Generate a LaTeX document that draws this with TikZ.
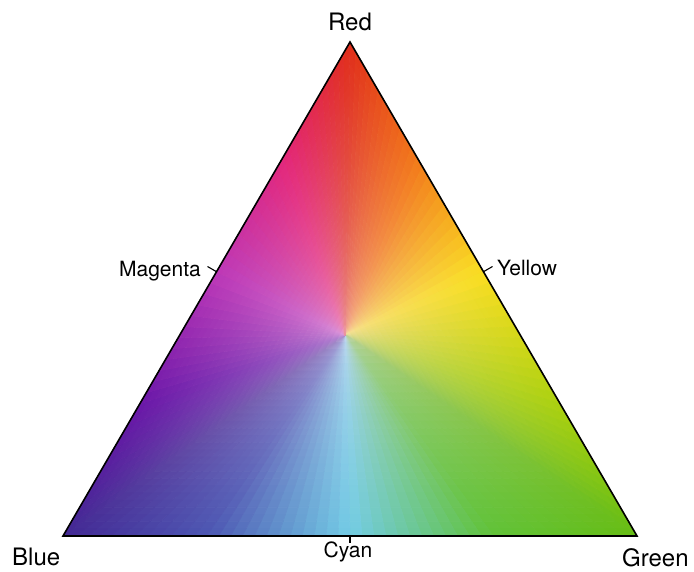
\documentclass[tikz,border=0pt]{standalone}
\usepackage{fontspec}
\setmainfont{TeX Gyre Heros}
\begin{document}
\begin{tikzpicture}[x=1pt,y=-1pt,
  biglabel/.style={font=\fontsize{24}{28}\selectfont, inner sep=0pt},
  smalllabel/.style={font=\fontsize{21}{25}\selectfont, inner sep=0pt},
  tickline/.style={line width=1.1pt, black},
  outline/.style={line width=1.6pt, black, line join=miter}]
\useasboundingbox (0,0) rectangle (694,571);
\fill[white] (0,0) rectangle (694,571);
% centre of the colour wheel
\def\cenx{345}\def\ceny{335}
\def\NR{28}\def\NT{12}
\foreach \ax/\ay/\ar/\ag/\ab/\bx/\by/\br/\bg/\bb in {
 350/42/0.88/0.18/0.10/416.75/156.85/0.95/0.47/0.10,
 416.75/156.85/0.95/0.47/0.10/483.5/271.7/0.98/0.87/0.13,
 483.5/271.7/0.98/0.87/0.13/560.25/403.85/0.68/0.82/0.06,
 560.25/403.85/0.68/0.82/0.06/637/536/0.40/0.74/0.08,
 637/536/0.40/0.74/0.08/493.5/536/0.38/0.76/0.22,
 493.5/536/0.38/0.76/0.22/350/536/0.45/0.80/0.90,
 350/536/0.45/0.80/0.90/206.5/536/0.30/0.34/0.70,
 206.5/536/0.30/0.34/0.70/63/536/0.26/0.16/0.58,
 63/536/0.26/0.16/0.58/139.75/403.85/0.42/0.09/0.66,
 139.75/403.85/0.42/0.09/0.66/216.5/271.7/0.74/0.22/0.72,
 216.5/271.7/0.74/0.22/0.72/283.25/156.85/0.89/0.15/0.48,
 283.25/156.85/0.89/0.15/0.48/350/42/0.88/0.18/0.10}{
  \foreach \j in {1,...,\NT}{
    \pgfmathsetmacro\tA{(\j-1)/\NT}
    \pgfmathsetmacro\tB{\j/\NT}
    \pgfmathsetmacro\tM{(\j-0.5)/\NT}
    \pgfmathsetmacro\eAx{\ax+\tA*(\bx-\ax)-\cenx}
    \pgfmathsetmacro\eAy{\ay+\tA*(\by-\ay)-\ceny}
    \pgfmathsetmacro\eBx{\ax+\tB*(\bx-\ax)-\cenx}
    \pgfmathsetmacro\eBy{\ay+\tB*(\by-\ay)-\ceny}
    \pgfmathsetmacro\edR{\ar+\tM*(\br-\ar)}
    \pgfmathsetmacro\edG{\ag+\tM*(\bg-\ag)}
    \pgfmathsetmacro\edB{\ab+\tM*(\bb-\ab)}
    \pgfmathsetmacro\inR{0.45+0.35*\edR+0.172}
    \pgfmathsetmacro\inG{0.45+0.35*\edG+0.124}
    \pgfmathsetmacro\inB{0.45+0.35*\edB+0.176}
    \foreach \i in {1,...,\NR}{
      \pgfmathsetmacro\sA{(\i-1)/\NR}
      \pgfmathsetmacro\sB{\i/\NR}
      \pgfmathsetmacro\fs{((\i-0.5)/\NR)^0.55}
      \pgfmathsetmacro\colR{\inR+\fs*(\edR-\inR)}
      \pgfmathsetmacro\colG{\inG+\fs*(\edG-\inG)}
      \pgfmathsetmacro\colB{\inB+\fs*(\edB-\inB)}
      \definecolor{cellcol}{rgb}{\colR,\colG,\colB}
      \fill[cellcol, draw=cellcol, line width=0.6pt, line join=round]
        ({\cenx+\sA*(\eAx)},{\ceny+\sA*(\eAy)}) --
        ({\cenx+\sB*(\eAx)},{\ceny+\sB*(\eAy)}) --
        ({\cenx+\sB*(\eBx)},{\ceny+\sB*(\eBy)}) --
        ({\cenx+\sA*(\eBx)},{\ceny+\sA*(\eBy)}) -- cycle;
    }
  }
}
% vertices and tick points
\coordinate (R) at (350,42);
\coordinate (G) at (637,536);
\coordinate (B) at (63,536);
\coordinate (Ym) at (483.5,271.7);
\coordinate (Mm) at (216.5,271.7);
\coordinate (Cm) at (350,536);
\coordinate (Yt) at (492.5,266.5);
\coordinate (Mt) at (207.5,266.5);
\coordinate (Ct) at (350,543);
\draw[outline] (R) -- (G) -- (B) -- cycle;
\draw[tickline] (Ym) -- (Yt);
\draw[tickline] (Mm) -- (Mt);
\draw[tickline] (Cm) -- (Ct);
% labels
\node[biglabel, anchor=base] (red) at (350,30) {Red};
\node[biglabel, anchor=base west] (blue) at (12,565) {Blue};
\node[biglabel, anchor=base west] (green) at (622,566) {Green};
\node[smalllabel, anchor=base] (cyan) at (348,557) {Cyan};
\node[smalllabel, anchor=base east] (magenta) at (201,276) {Magenta};
\node[smalllabel, anchor=base west] (yellow) at (497,275) {Yellow};
\end{tikzpicture}
\end{document}
